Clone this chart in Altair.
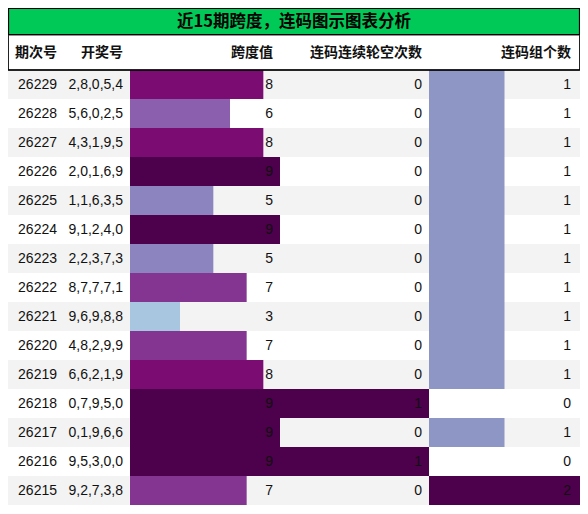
import altair as alt
import pandas as pd

# ---------------- data ----------------
periods = ["26229", "26228", "26227", "26226", "26225", "26224", "26223", "26222",
           "26221", "26220", "26219", "26218", "26217", "26216", "26215"]
draws = ["2,8,0,5,4", "5,6,0,2,5", "4,3,1,9,5", "2,0,1,6,9", "1,1,6,3,5", "9,1,2,4,0",
         "2,2,3,7,3", "8,7,7,7,1", "9,6,9,8,8", "4,8,2,9,9", "6,6,2,1,9", "0,7,9,5,0",
         "0,1,9,6,6", "9,5,3,0,0", "9,2,7,3,8"]
spans = [8, 6, 8, 9, 5, 9, 5, 7, 3, 7, 8, 9, 9, 9, 7]
gaps = [0, 0, 0, 0, 0, 0, 0, 0, 0, 0, 0, 1, 0, 1, 0]
counts = [1, 1, 1, 1, 1, 1, 1, 1, 1, 1, 1, 0, 1, 0, 2]

title_text = "近15期跨度，连码图示图表分析"
headers = ["期次号", "开奖号", "跨度值", "连码连续轮空次数", "连码组个数"]

span_domain = [3, 5, 6, 7, 8, 9]
span_colors = ["#a9c6e1", "#8c84bf", "#8b5fad", "#843592", "#7a0c72", "#4d004b"]
gap_domain = [0, 1]
gap_colors = ["#ffffff", "#4d004b"]
cnt_domain = [0, 1, 2]
cnt_colors = ["#ffffff", "#8e96c6", "#4d004b"]

# ---------------- layout (pixel units of the plot area) ----------------
W, H = 572, 498
TITLE_H, HEAD_B, ROW_H = 27, 62, 29
col_left = [0, 58, 122, 272, 421]
col_right = [58, 122, 272, 421, 572]
text_right = [49, 115, 265, 414, 563]
span_max, gap_max, cnt_max = 9, 1, 2

n = len(periods)
df = pd.DataFrame({
    "i": list(range(n)),
    "period": periods,
    "draw": draws,
    "span": spans,
    "gap": gaps,
    "cnt": counts,
})

xs = alt.Scale(domain=[0, W], nice=False, zero=False)
ys = alt.Scale(domain=[0, H], reverse=True, nice=False, zero=False)
FONT = "Noto Sans CJK SC"
TXT = "Liberation Sans"

base = alt.Chart(df).transform_calculate(
    y0=f"{HEAD_B} + datum.i * {ROW_H}",
    y1=f"{HEAD_B} + (datum.i + 1) * {ROW_H}",
    yc=f"{HEAD_B} + (datum.i + 0.5) * {ROW_H}",
    stripe="datum.i % 2 == 0 ? 'g' : 'w'",
)

bg = base.transform_calculate(xa="0", xb=f"{W}").mark_rect().encode(
    x=alt.X("xa:Q", scale=xs, axis=None), x2="xb:Q",
    y=alt.Y("y0:Q", scale=ys, axis=None), y2="y1:Q",
    fill=alt.Fill("stripe:N", scale=alt.Scale(domain=["g", "w"], range=["#f3f3f3", "#ffffff"]), legend=None),
)

span_bar = base.transform_calculate(
    xa=f"{col_left[2]}",
    xb=f"{col_left[2]} + datum.span / {span_max} * {col_right[2] - col_left[2]}",
).mark_rect().encode(
    x=alt.X("xa:Q", scale=xs, axis=None), x2="xb:Q",
    y=alt.Y("y0:Q", scale=ys, axis=None), y2="y1:Q",
    color=alt.Color("span:O", scale=alt.Scale(domain=span_domain, range=span_colors), legend=None),
)

gap_bar = base.transform_filter("datum.gap > 0").transform_calculate(
    xa=f"{col_left[3]}",
    xb=f"{col_left[3]} + datum.gap / {gap_max} * {col_right[3] - col_left[3]}",
).mark_rect().encode(
    x=alt.X("xa:Q", scale=xs, axis=None), x2="xb:Q",
    y=alt.Y("y0:Q", scale=ys, axis=None), y2="y1:Q",
    color=alt.Color("gap:O", scale=alt.Scale(domain=gap_domain, range=gap_colors), legend=None),
)

cnt_bar = base.transform_filter("datum.cnt > 0").transform_calculate(
    xa=f"{col_left[4]}",
    xb=f"{col_left[4]} + datum.cnt / {cnt_max} * {col_right[4] - col_left[4]}",
).mark_rect().encode(
    x=alt.X("xa:Q", scale=xs, axis=None), x2="xb:Q",
    y=alt.Y("y0:Q", scale=ys, axis=None), y2="y1:Q",
    color=alt.Color("cnt:O", scale=alt.Scale(domain=cnt_domain, range=cnt_colors), legend=None),
)

def col_text(field, k):
    return base.transform_calculate(xt=f"{text_right[k]}").mark_text(
        align="right", baseline="middle", font=TXT, fontSize=14, color="#111111"
    ).encode(
        x=alt.X("xt:Q", scale=xs, axis=None),
        y=alt.Y("yc:Q", scale=ys, axis=None),
        text=alt.Text(f"{field}:N"),
    )

texts = [col_text("period", 0), col_text("draw", 1), col_text("span", 2),
         col_text("gap", 3), col_text("cnt", 4)]

# header
hdf = pd.DataFrame({"h": headers, "xr": text_right})
head_bg = alt.Chart(pd.DataFrame({"xa": [0.5], "xb": [W - 0.5], "ya": [TITLE_H], "yb": [HEAD_B]})).mark_rect(
    fill="#ffffff", stroke="#222222", strokeWidth=1
).encode(
    x=alt.X("xa:Q", scale=xs, axis=None), x2="xb:Q",
    y=alt.Y("ya:Q", scale=ys, axis=None), y2="yb:Q",
)
head_txt = alt.Chart(hdf).transform_calculate(yc=f"({TITLE_H} + {HEAD_B}) / 2").mark_text(
    align="right", baseline="middle", font=FONT, fontSize=14, fontWeight="bold", color="#111111"
).encode(
    x=alt.X("xr:Q", scale=xs, axis=None),
    y=alt.Y("yc:Q", scale=ys, axis=None),
    text="h:N",
)
head_line = alt.Chart(pd.DataFrame({"xa": [0], "xb": [W], "yl": [HEAD_B]})).mark_rule(
    color="#000000", strokeWidth=1.5
).encode(
    x=alt.X("xa:Q", scale=xs, axis=None), x2="xb:Q",
    y=alt.Y("yl:Q", scale=ys, axis=None),
)

# title bar
tdf = pd.DataFrame({"xa": [0.5], "xb": [W - 0.5], "ya": [0.5], "yb": [TITLE_H - 0.5],
                    "xc": [W / 2], "yc": [TITLE_H / 2], "t": [title_text]})
title_bg = alt.Chart(tdf).mark_rect(fill="#00c957", stroke="#000000", strokeWidth=1.2).encode(
    x=alt.X("xa:Q", scale=xs, axis=None), x2="xb:Q",
    y=alt.Y("ya:Q", scale=ys, axis=None), y2="yb:Q",
)
title_txt = alt.Chart(tdf).mark_text(
    align="center", baseline="middle", font=FONT, fontSize=16.5, fontWeight="bold", color="#000000"
).encode(
    x=alt.X("xc:Q", scale=xs, axis=None),
    y=alt.Y("yc:Q", scale=ys, axis=None),
    text="t:N",
)

chart = alt.layer(
    bg, span_bar, gap_bar, cnt_bar, *texts, head_bg, head_txt, head_line, title_bg, title_txt
).resolve_scale(color="independent", fill="independent").properties(
    width=W, height=H, padding=0, autosize="none", background="#ffffff"
).configure_view(stroke=None)

chart.save("out.html", embed_options={"renderer": "svg", "actions": False})
